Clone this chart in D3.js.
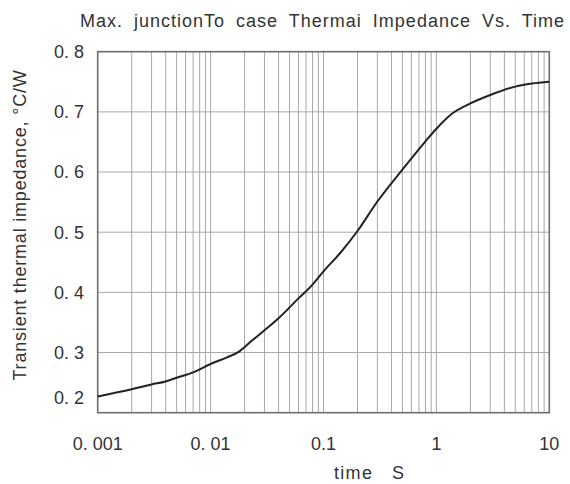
<!DOCTYPE html>
<html>
<head>
<meta charset="utf-8">
<script src="https://cdn.jsdelivr.net/npm/d3@7"></script>
<style>
body { margin: 0; background: #fff; }
text { font-family: "Liberation Sans", Arial, sans-serif; fill: #333; }
</style>
</head>
<body>
<script>
"use strict";

// Curve: time in seconds, Zth(j-c) in °C/W
const timeS = [0.001, 0.002, 0.003, 0.004, 0.005, 0.007, 0.01, 0.014, 0.018, 0.023,
               0.03, 0.04, 0.06, 0.08, 0.1, 0.14, 0.2, 0.3, 0.5, 0.8,
               1, 1.4, 2, 3, 5, 7, 10];
const zthJC = [0.227, 0.239, 0.247, 0.252, 0.258, 0.267, 0.281, 0.292, 0.302, 0.319,
               0.337, 0.357, 0.390, 0.413, 0.435, 0.465, 0.502, 0.551, 0.604, 0.651,
               0.672, 0.698, 0.714, 0.728, 0.742, 0.747, 0.750];

const xTicks = [0.001, 0.01, 0.1, 1, 10];
const xTickLabels = ["0. 001", "0. 01", "0.1", "1", "10"];
const yTicks = [0.2, 0.3, 0.4, 0.5, 0.6, 0.7, 0.8];
const yTickLabels = ["0. 2", "0. 3", "0. 4", "0. 5", "0. 6", "0. 7", "0. 8"];

const title = "Max. junctionTo case Thermai Impedance Vs. Time";
const xTitle = "time   S";
const yTitle = "Transient thermal impedance, °C/W";

//Width and height
let w = 570;
let h = 484;
let plot = {left: 97.7, right: 549.3, top: 51.7, bottom: 412.7};

let svg = d3.select("body")
    .append("svg")
    .attr("width", w)
    .attr("height", h);

let x = d3.scaleLog()
    .domain([0.001, 10])
    .range([plot.left, plot.right]);

let y = d3.scaleLinear()
    .domain([0.2, 0.8])
    .range([plot.bottom, plot.top]);

// log grid: every 1..9 multiple inside the domain
let vGrid = x.ticks().filter(d => d > 0.001 && d < 10);
svg.append("g")
    .selectAll("line")
    .data(vGrid)
    .enter().append("line")
    .attr("x1", d => x(d)).attr("x2", d => x(d))
    .attr("y1", plot.top).attr("y2", plot.bottom)
    .attr("stroke", "#a8a8a8")
    .attr("stroke-width", 1);

svg.append("g")
    .selectAll("line")
    .data(yTicks.slice(1, -1))
    .enter().append("line")
    .attr("x1", plot.left).attr("x2", plot.right)
    .attr("y1", d => y(d)).attr("y2", d => y(d))
    .attr("stroke", "#a8a8a8")
    .attr("stroke-width", 1);

svg.append("rect")
    .attr("x", plot.left).attr("y", plot.top)
    .attr("width", plot.right - plot.left)
    .attr("height", plot.bottom - plot.top)
    .attr("fill", "none")
    .attr("stroke", "#6e6e6e")
    .attr("stroke-width", 1.6);

// the curve
let line = d3.line()
    .x((d, i) => x(timeS[i]))
    .y(d => y(d))
    .curve(d3.curveMonotoneX);

svg.append("path")
    .datum(zthJC)
    .attr("d", line)
    .attr("fill", "none")
    .attr("stroke", "#222")
    .attr("stroke-width", 2);

// tick labels
svg.append("g")
    .selectAll("text")
    .data(xTicks)
    .enter().append("text")
    .attr("x", d => x(d))
    .attr("y", 450)
    .attr("text-anchor", "middle")
    .style("font-size", "18px")
    .text((d, i) => xTickLabels[i]);

svg.append("g")
    .selectAll("text")
    .data(yTicks)
    .enter().append("text")
    .attr("x", 84)
    // bottom label sits raised above the frame line
    .attr("y", (d, i) => i === 0 ? y(d) - 15 : y(d))
    .attr("dy", "0.35em")
    .attr("text-anchor", "end")
    .style("font-size", "18px")
    .text((d, i) => yTickLabels[i]);

// titles
let t = svg.append("text")
    .attr("x", 80)
    .attr("y", 27)
    .style("font-size", "18px")
    .style("letter-spacing", "1px")
    .text(title);
let spaces = title.split(" ").length - 1;
let extra = (485 - t.node().getComputedTextLength()) / spaces;
t.style("word-spacing", Math.max(0, extra) + "px");

svg.append("text")
    .attr("x", 334)
    .attr("y", 479)
    .style("font-size", "18px")
    .style("letter-spacing", "1.3px")
    .style("white-space", "pre")
    .text(xTitle);

svg.append("text")
    .attr("transform", "translate(26,225) rotate(-90)")
    .attr("text-anchor", "middle")
    .style("font-size", "18px")
    .style("letter-spacing", "0.8px")
    .text(yTitle);
</script>
</body>
</html>
